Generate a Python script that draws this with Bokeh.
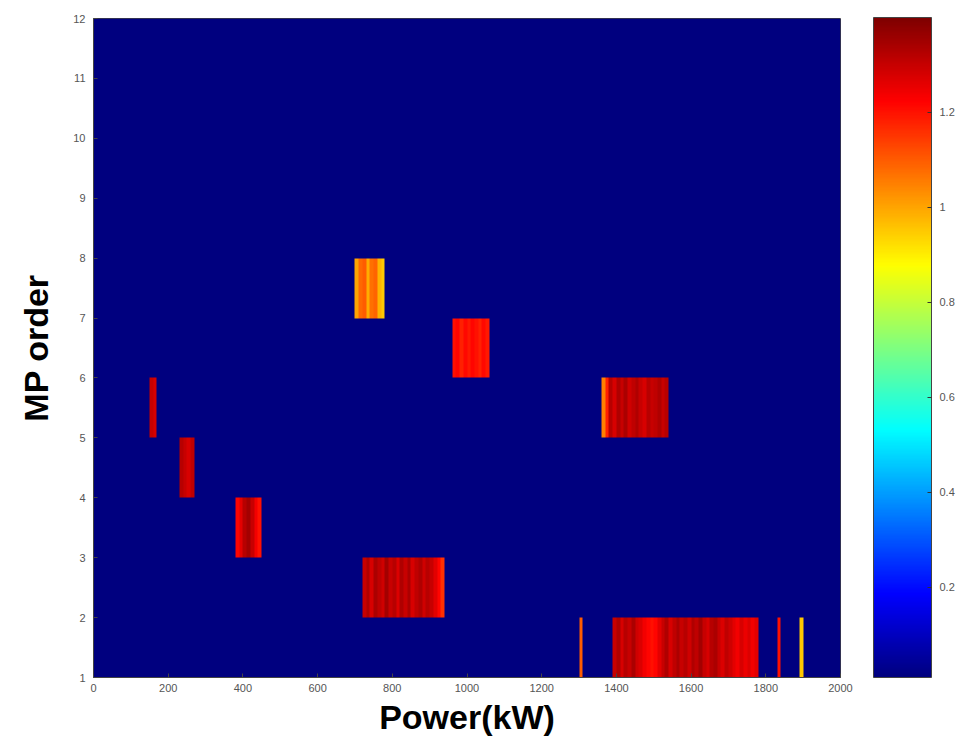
import numpy as np
from bokeh.plotting import figure
from bokeh.models import LinearColorMapper, ColorBar, FixedTicker
from bokeh.embed import file_html
from bokeh.resources import INLINE

# ---------------- data ----------------
x_ticks = [0, 200, 400, 600, 800, 1000, 1200, 1400, 1600, 1800, 2000]
y_ticks = list(range(1, 13))
cbar_ticks = [0.2, 0.4, 0.6, 0.8, 1.0, 1.2]
cbar_low = 0.01
cbar_high = 1.40

power_max_kw = 2000
bin_width_kw = 10
mp_order_min = 1
mp_order_max = 12
background_value = 0.01

# each block: MP order row (cell spans row..row+1), start kW, values per 10 kW bin
block_rows = [5, 4, 3, 2, 7, 6, 5, 1, 1, 1, 1]
block_starts = [150, 230, 380, 720, 700, 960, 1360, 1300, 1390, 1830, 1890]
block_values = [
    [1.30, 1.28],
    [1.32, 1.30, 1.28, 1.31],
    [1.22, 1.26, 1.32, 1.35, 1.30, 1.24, 1.20],
    [1.30, 1.33, 1.28, 1.34, 1.31, 1.29, 1.35, 1.30, 1.32, 1.27, 1.33,
     1.30, 1.34, 1.28, 1.31, 1.33, 1.29, 1.32, 1.30, 1.26, 1.22, 1.16],
    [1.00, 1.08, 1.10, 0.99, 1.07, 1.09, 0.98, 0.95],
    [1.20, 1.22, 1.18, 1.21, 1.19, 1.22, 1.20, 1.18, 1.21, 1.19],
    [1.05, 1.18, 1.32, 1.28, 1.33, 1.30, 1.34, 1.29, 1.31, 1.33,
     1.30, 1.28, 1.32, 1.30, 1.31, 1.33, 1.30, 1.32],
    [1.10],
    [1.30, 1.33, 1.28, 1.32, 1.30, 1.34, 1.29, 1.27, 1.24, 1.22,
     1.20, 1.22, 1.26, 1.30, 1.33, 1.28, 1.31, 1.34, 1.30, 1.32,
     1.29, 1.33, 1.31, 1.35, 1.30, 1.28, 1.32, 1.34, 1.30, 1.27,
     1.31, 1.29, 1.26, 1.24, 1.28, 1.25, 1.27, 1.24, 1.26],
    [1.20],
    [0.95],
]

# ---------------- build grid ----------------
n_cols = power_max_kw // bin_width_kw
n_rows = mp_order_max - mp_order_min
grid = np.full((n_rows, n_cols), background_value, dtype=float)
for row, start, vals in zip(block_rows, block_starts, block_values):
    c0 = start // bin_width_kw
    for i, v in enumerate(vals):
        grid[row - mp_order_min, c0 + i] = v


def jet_palette(n=256):
    cols = []
    for i in range(n):
        t = i / (n - 1)
        r = min(max(1.5 - abs(4 * t - 3), 0), 1)
        g = min(max(1.5 - abs(4 * t - 2), 0), 1)
        b = min(max(1.5 - abs(4 * t - 1), 0), 1)
        cols.append("#%02x%02x%02x" % (int(r * 255), int(g * 255), int(b * 255)))
    return cols


mapper = LinearColorMapper(palette=jet_palette(), low=cbar_low, high=cbar_high)

FONT = "Liberation Sans"

p = figure(
    frame_width=747, frame_height=659,
    x_range=(0, power_max_kw), y_range=(mp_order_min, mp_order_max),
    output_backend="svg", toolbar_location=None,
    min_border_left=93, min_border_top=18, min_border_bottom=66,
    min_border_right=10,
)
p.image(image=[grid], x=0, y=mp_order_min, dw=power_max_kw,
        dh=mp_order_max - mp_order_min, color_mapper=mapper)

p.grid.visible = False
p.outline_line_color = "#444444"
p.outline_line_width = 1

p.xaxis.ticker = FixedTicker(ticks=x_ticks)
p.yaxis.ticker = FixedTicker(ticks=y_ticks)
for ax in (p.xaxis[0], p.yaxis[0]):
    ax.major_label_text_font = FONT
    ax.major_label_text_font_size = "11px"
    ax.major_label_text_color = "#555555"
    ax.major_tick_in = 4
    ax.major_tick_out = 0
    ax.minor_tick_line_color = None
    ax.axis_line_color = "#444444"
    ax.major_tick_line_color = "#444444"
    ax.axis_label_text_font = FONT
    ax.axis_label_text_font_style = "bold"
    ax.axis_label_text_font_size = "34px"
    ax.axis_label_text_color = "black"

p.xaxis.axis_label = "Power(kW)"
p.yaxis.axis_label = "MP order"
p.xaxis.axis_label_standoff = 3
p.yaxis.axis_label_standoff = 15
p.xaxis.major_label_standoff = 6
p.yaxis.major_label_standoff = 8

cb = ColorBar(
    color_mapper=mapper,
    ticker=FixedTicker(ticks=cbar_ticks),
    major_label_overrides={1.0: "1"},
    width=58, height=660,
    margin=24, padding=0,
    location=(33, 0),
    major_label_text_font=FONT,
    major_label_text_font_size="11px",
    major_label_text_color="#555555",
    major_tick_line_color="#333333",
    major_tick_in=4, major_tick_out=0,
    bar_line_color="#444444",
    border_line_color=None,
    background_fill_alpha=0,
    label_standoff=8,
)
p.add_layout(cb, "right")

with open("out.html", "w") as f:
    f.write(file_html(p, INLINE))
